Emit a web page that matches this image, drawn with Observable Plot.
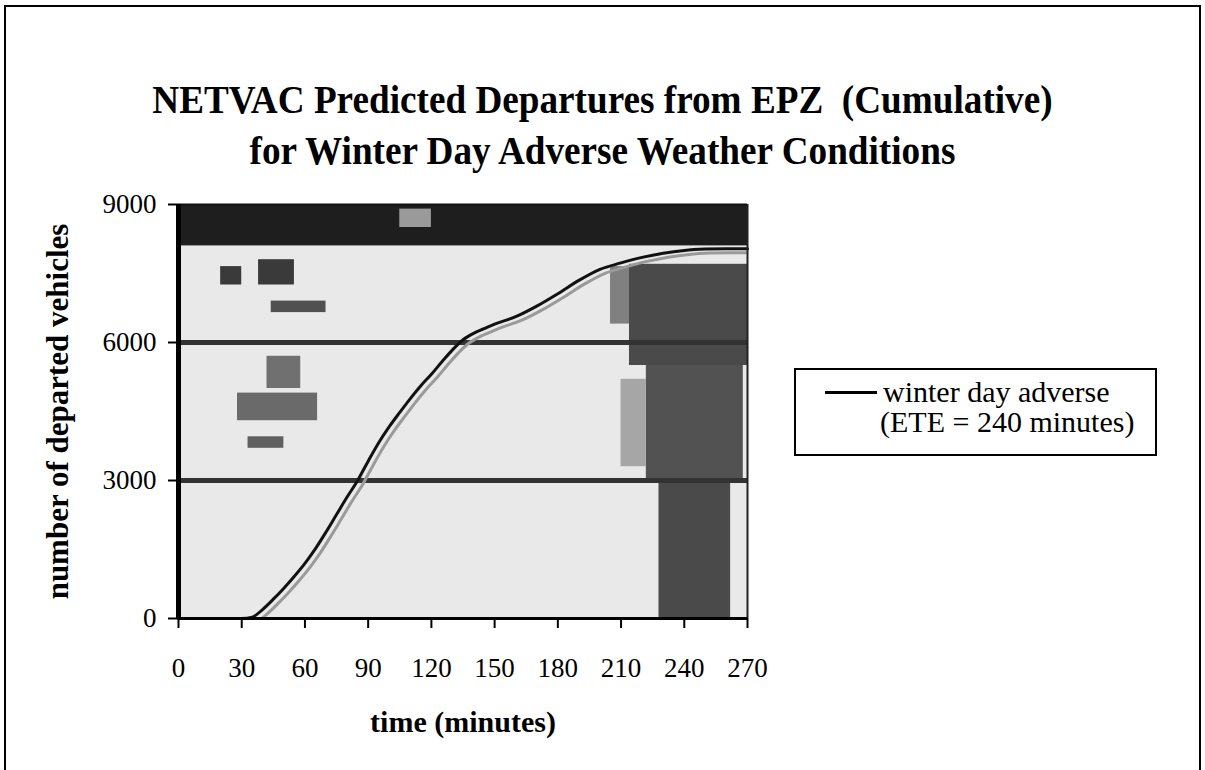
<!DOCTYPE html>
<html>
<head>
<meta charset="utf-8">
<script src="https://cdn.jsdelivr.net/npm/d3@7"></script>
<script src="https://cdn.jsdelivr.net/npm/@observablehq/plot@0.6"></script>
<style>
  body { margin: 0; background: #fff; }
  #frame { position: relative; width: 1205px; height: 770px; overflow: hidden; background: #fff;
           font-family: "Liberation Serif", "Times New Roman", serif; color: #000; }
  #border { position: absolute; left: 4px; top: 5px; width: 1197px; height: 820px;
            border: 2px solid #000; box-sizing: border-box; }
  #title { position: absolute; left: 0; top: 74px; width: 1205px; text-align: center;
           font-weight: bold; font-size: 40px; line-height: 51px; white-space: pre; z-index: 2;
           transform: scaleX(0.93); transform-origin: 602px 0; }
  #chart { position: absolute; left: 0; top: 0; z-index: 1; }
  #legend { position: absolute; left: 794px; top: 368px; width: 363px; height: 88px;
            border: 2px solid #000; box-sizing: border-box; background: #fff; z-index: 3; }
  .legline { position: absolute; left: 29px; top: 21px; width: 52px; height: 3px; background: #000; }
  .legtext { position: absolute; font-size: 30px; line-height: 30px; white-space: pre; }
</style>
</head>
<body>
<div id="frame">
  <div id="border"></div>
  <div id="title"></div>
  <div id="chart"></div>
  <div id="legend">
    <div class="legline"></div>
    <div class="legtext" id="leg1" style="left:87px; top:7px;"></div>
    <div class="legtext" id="leg2" style="left:84px; top:37px;"></div>
  </div>
</div>
<script>
// ---- chart text ----
const titleLines = ["NETVAC Predicted Departures from EPZ  (Cumulative)",
                    "for Winter Day Adverse Weather Conditions"];
const xLabel = "time (minutes)";
const yLabel = "number of departed vehicles";
const seriesName = "winter day adverse";
const seriesNote = "(ETE = 240 minutes)";

// ---- axis ticks ----
const xTicks = [0, 30, 60, 90, 120, 150, 180, 210, 240, 270];
const yTicks = [0, 3000, 6000, 9000];
const gridValues = [3000, 6000];

// ---- series: cumulative departed vehicles vs time (minutes) ----
const times    = [0, 10, 20, 30, 35, 40, 45, 50, 55, 60, 65, 70, 75, 80, 85, 90, 95, 100, 105, 110,
                  115, 120, 125, 130, 135, 140, 145, 150, 160, 170, 180, 190, 200, 210, 220, 230, 240, 250, 260, 270];
const departed = [0, 0, 0, 0, 30, 200, 420, 660, 920, 1200, 1520, 1880, 2260, 2640, 3000, 3420, 3820, 4170, 4480, 4780,
                  5060, 5310, 5580, 5840, 6060, 6200, 6300, 6400, 6560, 6790, 7060, 7350, 7590, 7730, 7850, 7940, 8000, 8030, 8040, 8040];

// ---- scanned plot-area shading (dark blotches of the photocopy) ----
const shadeX1   = [0,    105,  228,  222,  214,  205,  210,  20,   38,   44,   28,   33,   42];
const shadeX2   = [270,  120,  262,  268,  270,  214,  222,  30,   55,   70,   66,   50,   58];
const shadeY1   = [8100, 8500, 0,    3000, 5500, 6400, 3300, 7250, 7250, 6650, 4300, 3700, 5000];
const shadeY2   = [9000, 8900, 3000, 5500, 7700, 7650, 5200, 7650, 7800, 6900, 4900, 3950, 5700];
const shadeFill = ["#1e1e1e", "#9a9a9a", "#4a4a4a", "#525252", "#4a4a4a", "#808080", "#a6a6a6",
                   "#3a3a3a", "#3a3a3a", "#505050", "#6a6a6a", "#606060", "#707070"];

const data = times.map((t, i) => ({t, v: departed[i]}));
const shades = shadeX1.map((x1, i) => ({x1, x2: shadeX2[i], y1: shadeY1[i], y2: shadeY2[i], fill: shadeFill[i]}));

document.getElementById("title").textContent = titleLines.join("\n");
document.getElementById("leg1").textContent = seriesName;
document.getElementById("leg2").textContent = seriesNote;

const chart = Plot.plot({
  width: 1205,
  height: 770,
  marginLeft: 178,
  marginRight: 458,
  marginTop: 204,
  marginBottom: 152,
  x: {domain: [0, 270]},
  y: {domain: [0, 9000]},
  style: {fontFamily: "'Liberation Serif', 'Times New Roman', serif", fontSize: "27px", color: "#000", background: "transparent"},
  marks: [
    Plot.frame({fill: "#e9e9e9", stroke: null}),
    Plot.rect(shades, {x1: "x1", x2: "x2", y1: "y1", y2: "y2", fill: d => d.fill}),
    Plot.ruleY(gridValues, {stroke: "#333", strokeWidth: 5}),
    Plot.line(data, {x: "t", y: "v", stroke: "#9a9a9a", strokeWidth: 3, dx: 5, dy: 4, curve: "monotone-x", clip: true}),
    Plot.line(data, {x: "t", y: "v", stroke: "#111", strokeWidth: 3, curve: "monotone-x"}),
    Plot.ruleX([270], {stroke: "#222", strokeWidth: 2}),
    Plot.ruleY([9000], {stroke: "#111", strokeWidth: 2}),
    Plot.ruleY([0], {stroke: "#000", strokeWidth: 3}),
    Plot.ruleX([0], {stroke: "#000", strokeWidth: 5}),
    Plot.axisX({ticks: xTicks, tickSize: 10, tickPadding: 29, strokeWidth: 2, label: null, tickFormat: d => String(d)}),
    Plot.axisY({ticks: yTicks, tickSize: 10, tickPadding: 12, strokeWidth: 2, label: null, tickFormat: d => String(d)}),
    Plot.text([xLabel], {text: d => d, frameAnchor: "bottom", dy: 104, fontSize: 30, fontWeight: "bold", lineAnchor: "middle"}),
    Plot.text([yLabel], {text: d => d, frameAnchor: "left", dx: -120, rotate: -90, fontSize: 31, fontWeight: "bold",
                         textAnchor: "middle", lineAnchor: "middle"})
  ]
});
document.getElementById("chart").appendChild(chart);
</script>
</body>
</html>
